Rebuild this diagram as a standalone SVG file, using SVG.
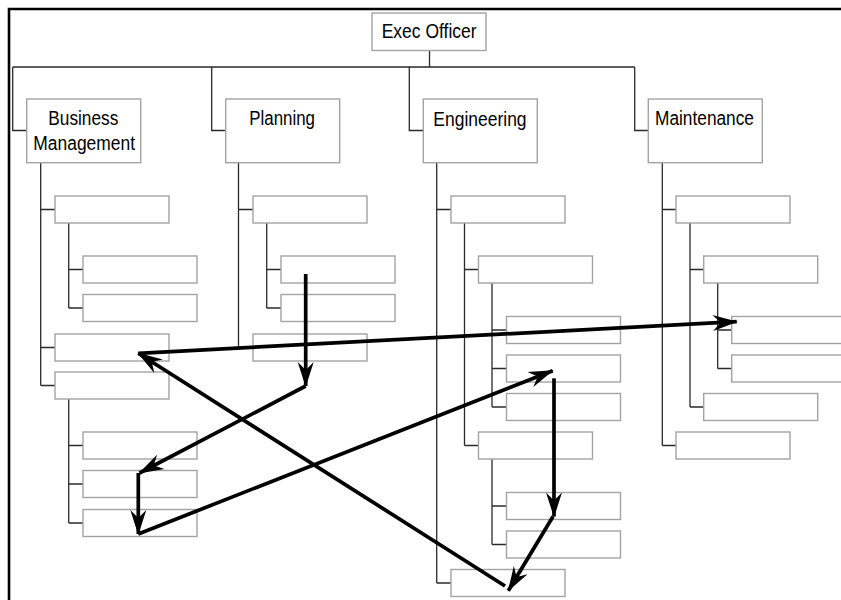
<svg xmlns="http://www.w3.org/2000/svg" width="841" height="600" viewBox="0 0 841 600">
  <style>
    .box { fill: #ffffff; stroke: #a3a3a3; stroke-width: 1.4; }
    .tree { fill: none; stroke: #2a2a2a; stroke-width: 1.3; }
    .frame { fill: none; stroke: #000000; stroke-width: 2.6; }
    .flow { fill: none; stroke: #000000; stroke-width: 3.7; marker-end: url(#head); }
    .label { font-family: "Liberation Sans", Arial, sans-serif; font-size: 19.5px; fill: #000000; }
  </style>
  <defs>
    <marker id="head" markerUnits="userSpaceOnUse" viewBox="0 -9 26 18" markerWidth="26" markerHeight="18" refX="24" refY="0" orient="auto">
      <path d="M0,-8 L25,0 L0,8 L8,0 Z" fill="#000000"/>
    </marker>
  </defs>
  <rect width="841" height="600" fill="#ffffff"/>

  <!-- outer frame -->
  <path class="frame" d="M9,600 V9 H841"/>

  <!-- tree connectors -->
  <g id="tree-lines" class="tree">
    <path d="M429.5,50.5 V67 M12.7,67 H634.7"/>
    <path d="M12.7,67 V130.5 H26.7 M211.7,67 V130.5 H225.7 M409.3,67 V130.5 H423.3 M634.7,67 V130.5 H648.3"/>
    <!-- Business Management -->
    <path d="M40.7,162.7 V385.5 M40.7,209.5 H55 M40.7,347.5 H55 M40.7,385.5 H55"/>
    <path d="M68.7,223 V308 M68.7,269.5 H83 M68.7,308 H83"/>
    <path d="M68.7,399 V523 M68.7,445.5 H83 M68.7,484 H83 M68.7,523 H83"/>
    <!-- Planning -->
    <path d="M238.5,162.7 V347.5 M238.5,209.5 H253 M238.5,347.5 H253"/>
    <path d="M266.7,223 V308 M266.7,269.5 H281 M266.7,308 H281"/>
    <!-- Engineering -->
    <path d="M436.7,162.7 V583 M436.7,209.5 H451 M436.7,583 H451"/>
    <path d="M464.5,223 V445.5 M464.5,269.5 H478.5 M464.5,445.5 H478.5"/>
    <path d="M492,283 V407 M492,330 H506.5 M492,368.5 H506.5 M492,407 H506.5"/>
    <path d="M492,459 V544.5 M492,506 H506.5 M492,544.5 H506.5"/>
    <!-- Maintenance -->
    <path d="M662.3,162.7 V445.5 M662.3,209.5 H676 M662.3,445.5 H676"/>
    <path d="M690,223 V407 M690,269.5 H703.7 M690,407 H703.7"/>
    <path d="M717.7,283 V368.5 M717.7,330 H731.7 M717.7,368.5 H731.7"/>
  </g>

  <!-- top level -->
  <g id="exec-officer">
    <rect class="box" x="372" y="13" width="114" height="37.5"/>
    <text class="label" x="381.7" y="38" textLength="95" lengthAdjust="spacingAndGlyphs">Exec Officer</text>
  </g>
  <g id="business-management">
    <rect class="box" x="26.7" y="99" width="114" height="63.7"/>
    <text class="label" x="48.3" y="125" textLength="70" lengthAdjust="spacingAndGlyphs">Business</text>
    <text class="label" x="33.3" y="149.5" textLength="101.7" lengthAdjust="spacingAndGlyphs">Management</text>
  </g>
  <g id="planning">
    <rect class="box" x="225.7" y="99" width="114" height="63.7"/>
    <text class="label" x="249.3" y="125" textLength="65.7" lengthAdjust="spacingAndGlyphs">Planning</text>
  </g>
  <g id="engineering">
    <rect class="box" x="423.3" y="99" width="114" height="63.7"/>
    <text class="label" x="433.3" y="125.5" textLength="93.3" lengthAdjust="spacingAndGlyphs">Engineering</text>
  </g>
  <g id="maintenance">
    <rect class="box" x="648.3" y="99" width="114" height="63.7"/>
    <text class="label" x="655" y="125" textLength="99" lengthAdjust="spacingAndGlyphs">Maintenance</text>
  </g>

  <!-- Business Management units -->
  <g id="bm-1"><rect class="box" x="55" y="196" width="114" height="27"/></g>
  <g id="bm-1-1"><rect class="box" x="83" y="256" width="114" height="27"/></g>
  <g id="bm-1-2"><rect class="box" x="83" y="294.5" width="114" height="27"/></g>
  <g id="bm-2"><rect class="box" x="55" y="334" width="114" height="27"/></g>
  <g id="bm-3"><rect class="box" x="55" y="372" width="114" height="27"/></g>
  <g id="bm-3-1"><rect class="box" x="83" y="432" width="114" height="27"/></g>
  <g id="bm-3-2"><rect class="box" x="83" y="470.5" width="114" height="27"/></g>
  <g id="bm-3-3"><rect class="box" x="83" y="509.5" width="114" height="27"/></g>

  <!-- Planning units -->
  <g id="pl-1"><rect class="box" x="253" y="196" width="114" height="27"/></g>
  <g id="pl-1-1"><rect class="box" x="281" y="256" width="114" height="27"/></g>
  <g id="pl-1-2"><rect class="box" x="281" y="294.5" width="114" height="27"/></g>
  <g id="pl-2"><rect class="box" x="253" y="334" width="114" height="27"/></g>

  <!-- Engineering units -->
  <g id="en-1"><rect class="box" x="451" y="196" width="114" height="27"/></g>
  <g id="en-1-1"><rect class="box" x="478.5" y="256" width="114" height="27"/></g>
  <g id="en-1-1-1"><rect class="box" x="506.5" y="316.5" width="114" height="27"/></g>
  <g id="en-1-1-2"><rect class="box" x="506.5" y="355" width="114" height="27"/></g>
  <g id="en-1-1-3"><rect class="box" x="506.5" y="393.5" width="114" height="27"/></g>
  <g id="en-1-2"><rect class="box" x="478.5" y="432" width="114" height="27"/></g>
  <g id="en-1-2-1"><rect class="box" x="506.5" y="492.5" width="114" height="27"/></g>
  <g id="en-1-2-2"><rect class="box" x="506.5" y="531" width="114" height="27"/></g>
  <g id="en-2"><rect class="box" x="451" y="569.5" width="114" height="27"/></g>

  <!-- Maintenance units -->
  <g id="mt-1"><rect class="box" x="676" y="196" width="114" height="27"/></g>
  <g id="mt-1-1"><rect class="box" x="703.7" y="256" width="114" height="27"/></g>
  <g id="mt-1-1-1"><rect class="box" x="731.7" y="316.5" width="114" height="27"/></g>
  <g id="mt-1-1-2"><rect class="box" x="731.7" y="355" width="114" height="27"/></g>
  <g id="mt-1-2"><rect class="box" x="703.7" y="393.5" width="114" height="27"/></g>
  <g id="mt-2"><rect class="box" x="676" y="432" width="114" height="27"/></g>

  <!-- flow arrows -->
  <g id="flow-arrows">
    <line class="flow" x1="305.7" y1="274" x2="305.7" y2="386"/>
    <line class="flow" x1="305.7" y1="386" x2="139.5" y2="473"/>
    <line class="flow" x1="138.3" y1="473" x2="138.3" y2="534"/>
    <line class="flow" x1="138.3" y1="534" x2="552.7" y2="370.7"/>
    <line class="flow" x1="554" y1="378.3" x2="554" y2="516.5"/>
    <line class="flow" x1="553" y1="516.5" x2="508.3" y2="590.7"/>
    <line class="flow" x1="505" y1="586" x2="138.3" y2="353.3"/>
    <line class="flow" x1="138.3" y1="353.3" x2="736.7" y2="321.7"/>
  </g>
</svg>
